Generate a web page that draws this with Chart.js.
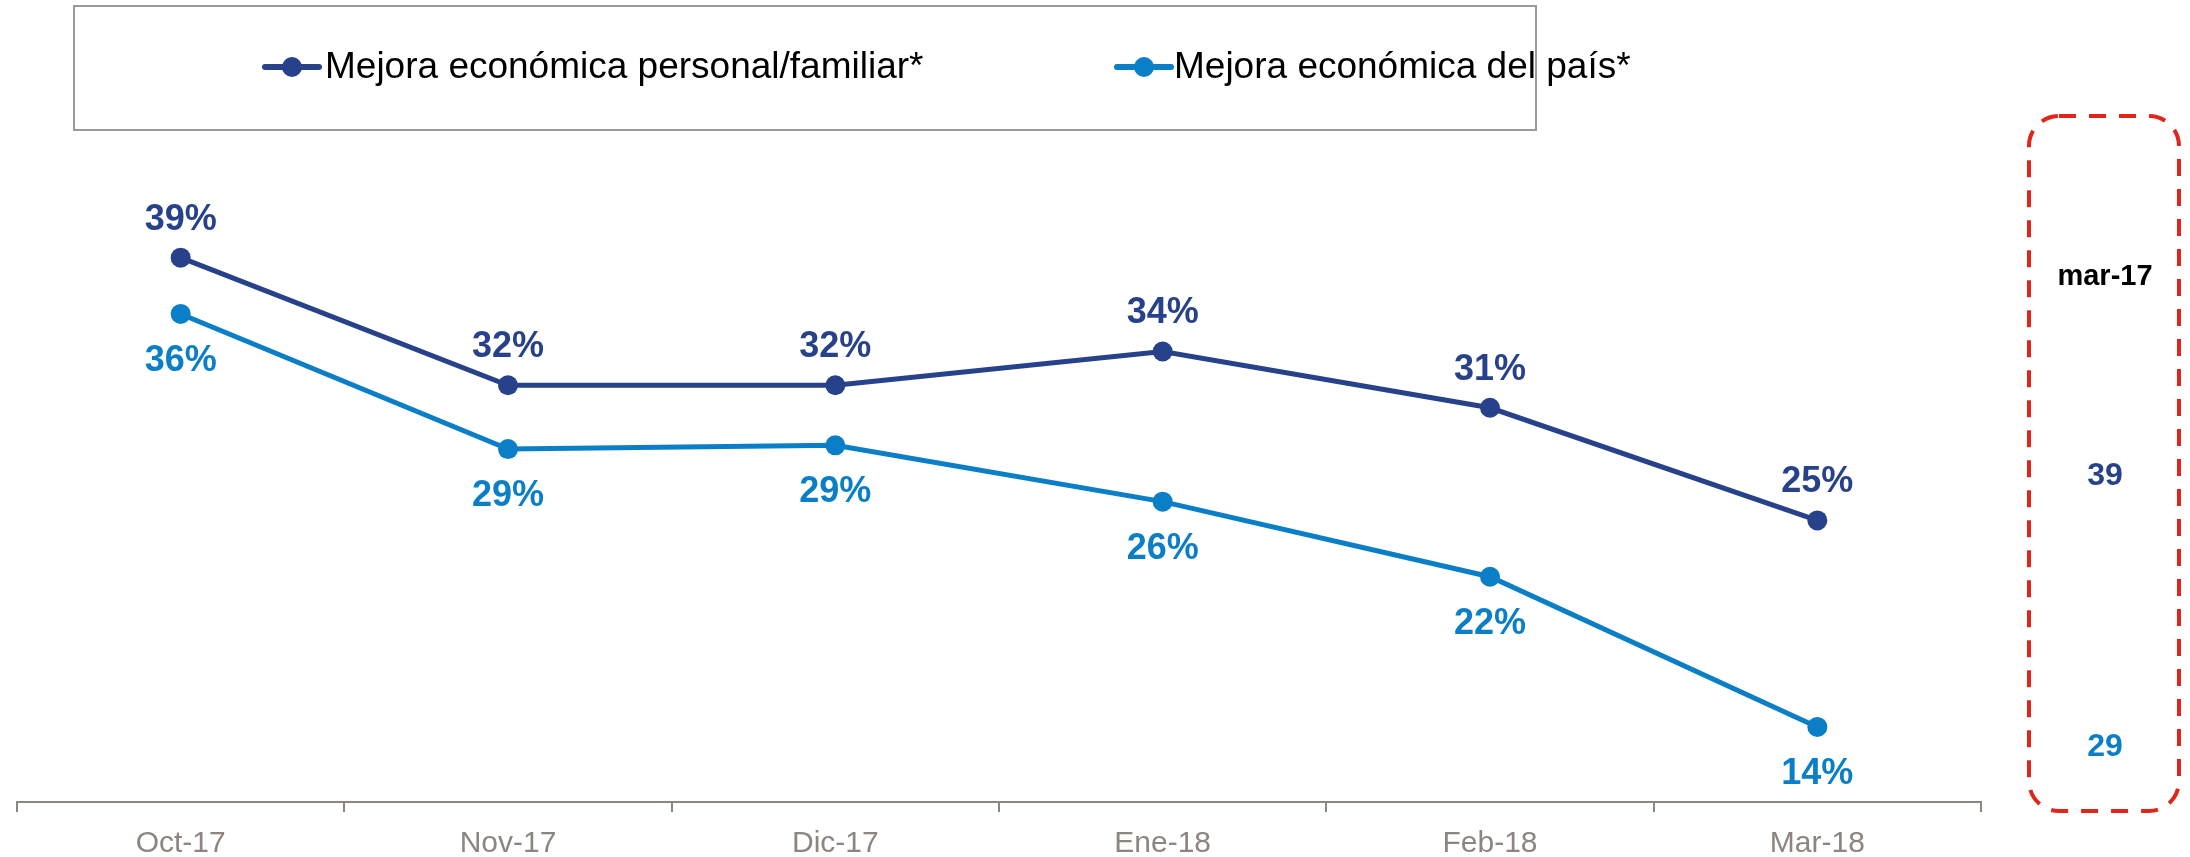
<!DOCTYPE html>
<html>
<head>
<meta charset="utf-8">
<script src="https://cdn.jsdelivr.net/npm/chart.js@4.4.1/dist/chart.umd.min.js"></script>
<style>
  body { margin: 0; background: #fff; }
  #wrap { position: relative; width: 2190px; height: 857px; }
</style>
</head>
<body>
<div id="wrap"><canvas id="trend-chart"></canvas></div>
<script>
// Data
const months = ["Oct-17", "Nov-17", "Dic-17", "Ene-18", "Feb-18", "Mar-18"];
const personalValues = [39, 32.2, 32.2, 34, 31, 25];      // Mejora económica personal/familiar*
const countryValues = [36, 28.8, 29, 26, 22, 14];         // Mejora económica del país*
const seriesNames = ["Mejora económica personal/familiar*", "Mejora económica del país*"];
const refLabel = "mar-17";
const refValues = [39, 29];

const DARK = "#27428a";
const LIGHT = "#0a7fc7";
const AXIS_GRAY = "#8c8580";
const RED = "#e1251b";
const FONT = "'Liberation Sans', Arial, sans-serif";

// legend box at the top, drawn by hand (marker = line with a dot)
const legendBoxPlugin = {
  id: "legendBox",
  afterDraw(chart) {
    const ctx = chart.ctx;
    ctx.save();
    ctx.strokeStyle = "#9a9a9a";
    ctx.lineWidth = 2;
    ctx.strokeRect(74, 6, 1462, 124);

    const items = [
      { x: 265, textX: 325 },
      { x: 1117, textX: 1174 },
    ];
    items.forEach((item, i) => {
      const ds = chart.data.datasets[i];
      const y = 67;
      ctx.strokeStyle = ds.borderColor;
      ctx.lineWidth = 6;
      ctx.lineCap = "round";
      ctx.beginPath();
      ctx.moveTo(item.x, y);
      ctx.lineTo(item.x + 54, y);
      ctx.stroke();
      ctx.fillStyle = ds.borderColor;
      ctx.beginPath();
      ctx.arc(item.x + 27, y, 10, 0, Math.PI * 2);
      ctx.fill();
      ctx.fillStyle = "#000";
      ctx.font = `37px ${FONT}`;
      ctx.textAlign = "left";
      ctx.textBaseline = "middle";
      ctx.fillText(ds.label, item.textX, y + 1);
    });
    ctx.restore();
  },
};

// percentage labels next to the points
const valueLabelsPlugin = {
  id: "valueLabels",
  afterDatasetsDraw(chart) {
    const ctx = chart.ctx;
    ctx.save();
    ctx.font = `bold 36px ${FONT}`;
    ctx.textAlign = "center";
    ctx.textBaseline = "middle";
    chart.data.datasets.forEach((ds, i) => {
      const meta = chart.getDatasetMeta(i);
      meta.data.forEach((pt, j) => {
        const offset = i === 0 ? -38 : 47;
        ctx.fillStyle = ds.borderColor;
        ctx.fillText(Math.round(ds.data[j]) + "%", pt.x, pt.y + offset);
      });
    });
    ctx.restore();
  },
};

// dashed comparison box on the right
const refBoxPlugin = {
  id: "refBox",
  afterDraw(chart) {
    const ctx = chart.ctx;
    const x = 2029, y = 116, w = 150, h = 695, r = 30;
    ctx.save();
    ctx.strokeStyle = RED;
    ctx.lineWidth = 4;
    ctx.setLineDash([17, 13]);
    ctx.beginPath();
    ctx.roundRect(x, y, w, h, r);
    ctx.stroke();
    ctx.setLineDash([]);
    ctx.textAlign = "center";
    ctx.textBaseline = "middle";
    ctx.font = `bold 29px ${FONT}`;
    ctx.fillStyle = "#000";
    ctx.fillText(refLabel, 2105, 277);
    ctx.font = `bold 32px ${FONT}`;
    ctx.fillStyle = DARK;
    ctx.fillText(String(refValues[0]), 2105, 476);
    ctx.fillStyle = LIGHT;
    ctx.fillText(String(refValues[1]), 2105, 747);
    ctx.restore();
  },
};

const ctx = document.getElementById("trend-chart").getContext("2d");
new Chart(ctx, {
  type: "line",
  data: {
    labels: months,
    datasets: [
      {
        label: seriesNames[0],
        data: personalValues,
        borderColor: DARK,
        backgroundColor: DARK,
        borderWidth: 5,
        pointRadius: 10,
        pointBorderWidth: 0,
        pointBackgroundColor: DARK,
        tension: 0,
      },
      {
        label: seriesNames[1],
        data: countryValues,
        borderColor: LIGHT,
        backgroundColor: LIGHT,
        borderWidth: 5,
        pointRadius: 10,
        pointBorderWidth: 0,
        pointBackgroundColor: LIGHT,
        tension: 0,
      },
    ],
  },
  options: {
    responsive: true,
    maintainAspectRatio: false,
    animation: false,
    layout: { padding: { left: 17, right: 209, top: 145, bottom: 0 } },
    plugins: {
      legend: { display: false },
      tooltip: { enabled: false },
    },
    scales: {
      x: {
        offset: true,
        grid: {
          offset: true,
          drawOnChartArea: false,
          drawTicks: true,
          tickLength: 10,
          color: AXIS_GRAY,
          lineWidth: 2,
        },
        border: { color: AXIS_GRAY, width: 2 },
        ticks: {
          color: AXIS_GRAY,
          font: { family: FONT, size: 30 },
          padding: 14,
        },
        afterFit: (scale) => { scale.height = 55; },
      },
      y: {
        display: false,
        min: 10,
        max: 45,
      },
    },
  },
  plugins: [legendBoxPlugin, valueLabelsPlugin, refBoxPlugin],
});
</script>
</body>
</html>
